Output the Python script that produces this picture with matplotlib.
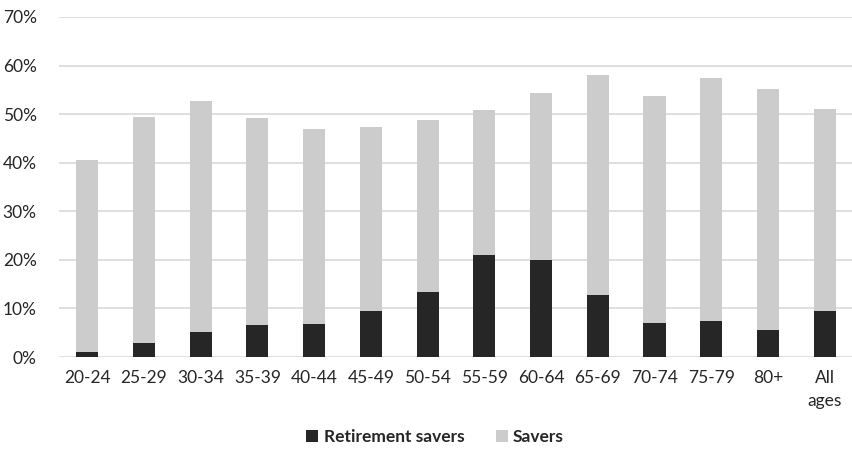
import matplotlib.pyplot as plt
import numpy as np
from matplotlib.ticker import PercentFormatter

plt.rcParams['font.family'] = ['Lato', 'DejaVu Sans']

ages = ['20-24', '25-29', '30-34', '35-39', '40-44', '45-49', '50-54',
        '55-59', '60-64', '65-69', '70-74', '75-79', '80+', 'All\nages']
savers = [40.5, 49.4, 52.7, 49.1, 46.9, 47.4, 48.8, 50.8, 54.4, 58.0, 53.7, 57.5, 55.2, 51.1]
retirement = [1.1, 2.9, 5.2, 6.6, 6.8, 9.5, 13.3, 21.0, 20.0, 12.8, 7.0, 7.5, 5.6, 9.5]

fig = plt.figure(figsize=(8.53, 4.58), dpi=100)
ax = fig.add_axes([0.069, 0.2205, 0.931, 0.7425])

x = np.arange(len(ages))
w = 0.39
ax.bar(x, savers, w, color='#cccccc', label='Savers', zorder=2)
ax.bar(x, retirement, w, color='#262626', label='Retirement savers', zorder=3)

ax.set_xlim(-0.5, len(ages) - 0.5)
ax.set_ylim(0, 70)
ax.set_yticks(np.arange(0, 71, 10))
ax.yaxis.set_major_formatter(PercentFormatter(decimals=0))
ax.set_xticks(x)
ax.set_xticklabels(ages, linespacing=1.6)
ax.grid(axis='y', color='#d9d9d9', linewidth=1.2, zorder=0)
for s in ax.spines.values():
    s.set_visible(False)
ax.tick_params(length=0, labelsize=12.5, colors='#262626')
ax.tick_params(axis='y', pad=16)
ax.tick_params(axis='x', pad=9)

h, l = ax.get_legend_handles_labels()
leg = fig.legend(h[::-1], l[::-1], loc='center', bbox_to_anchor=(0.51, 0.045), ncol=2,
                 frameon=False, handlelength=0.7, handleheight=0.7, columnspacing=1.8,
                 handletextpad=0.3, prop={'weight': 'bold', 'size': 12.5})
for t in leg.get_texts():
    t.set_color('#262626')

fig.savefig('out.png', dpi=100)
